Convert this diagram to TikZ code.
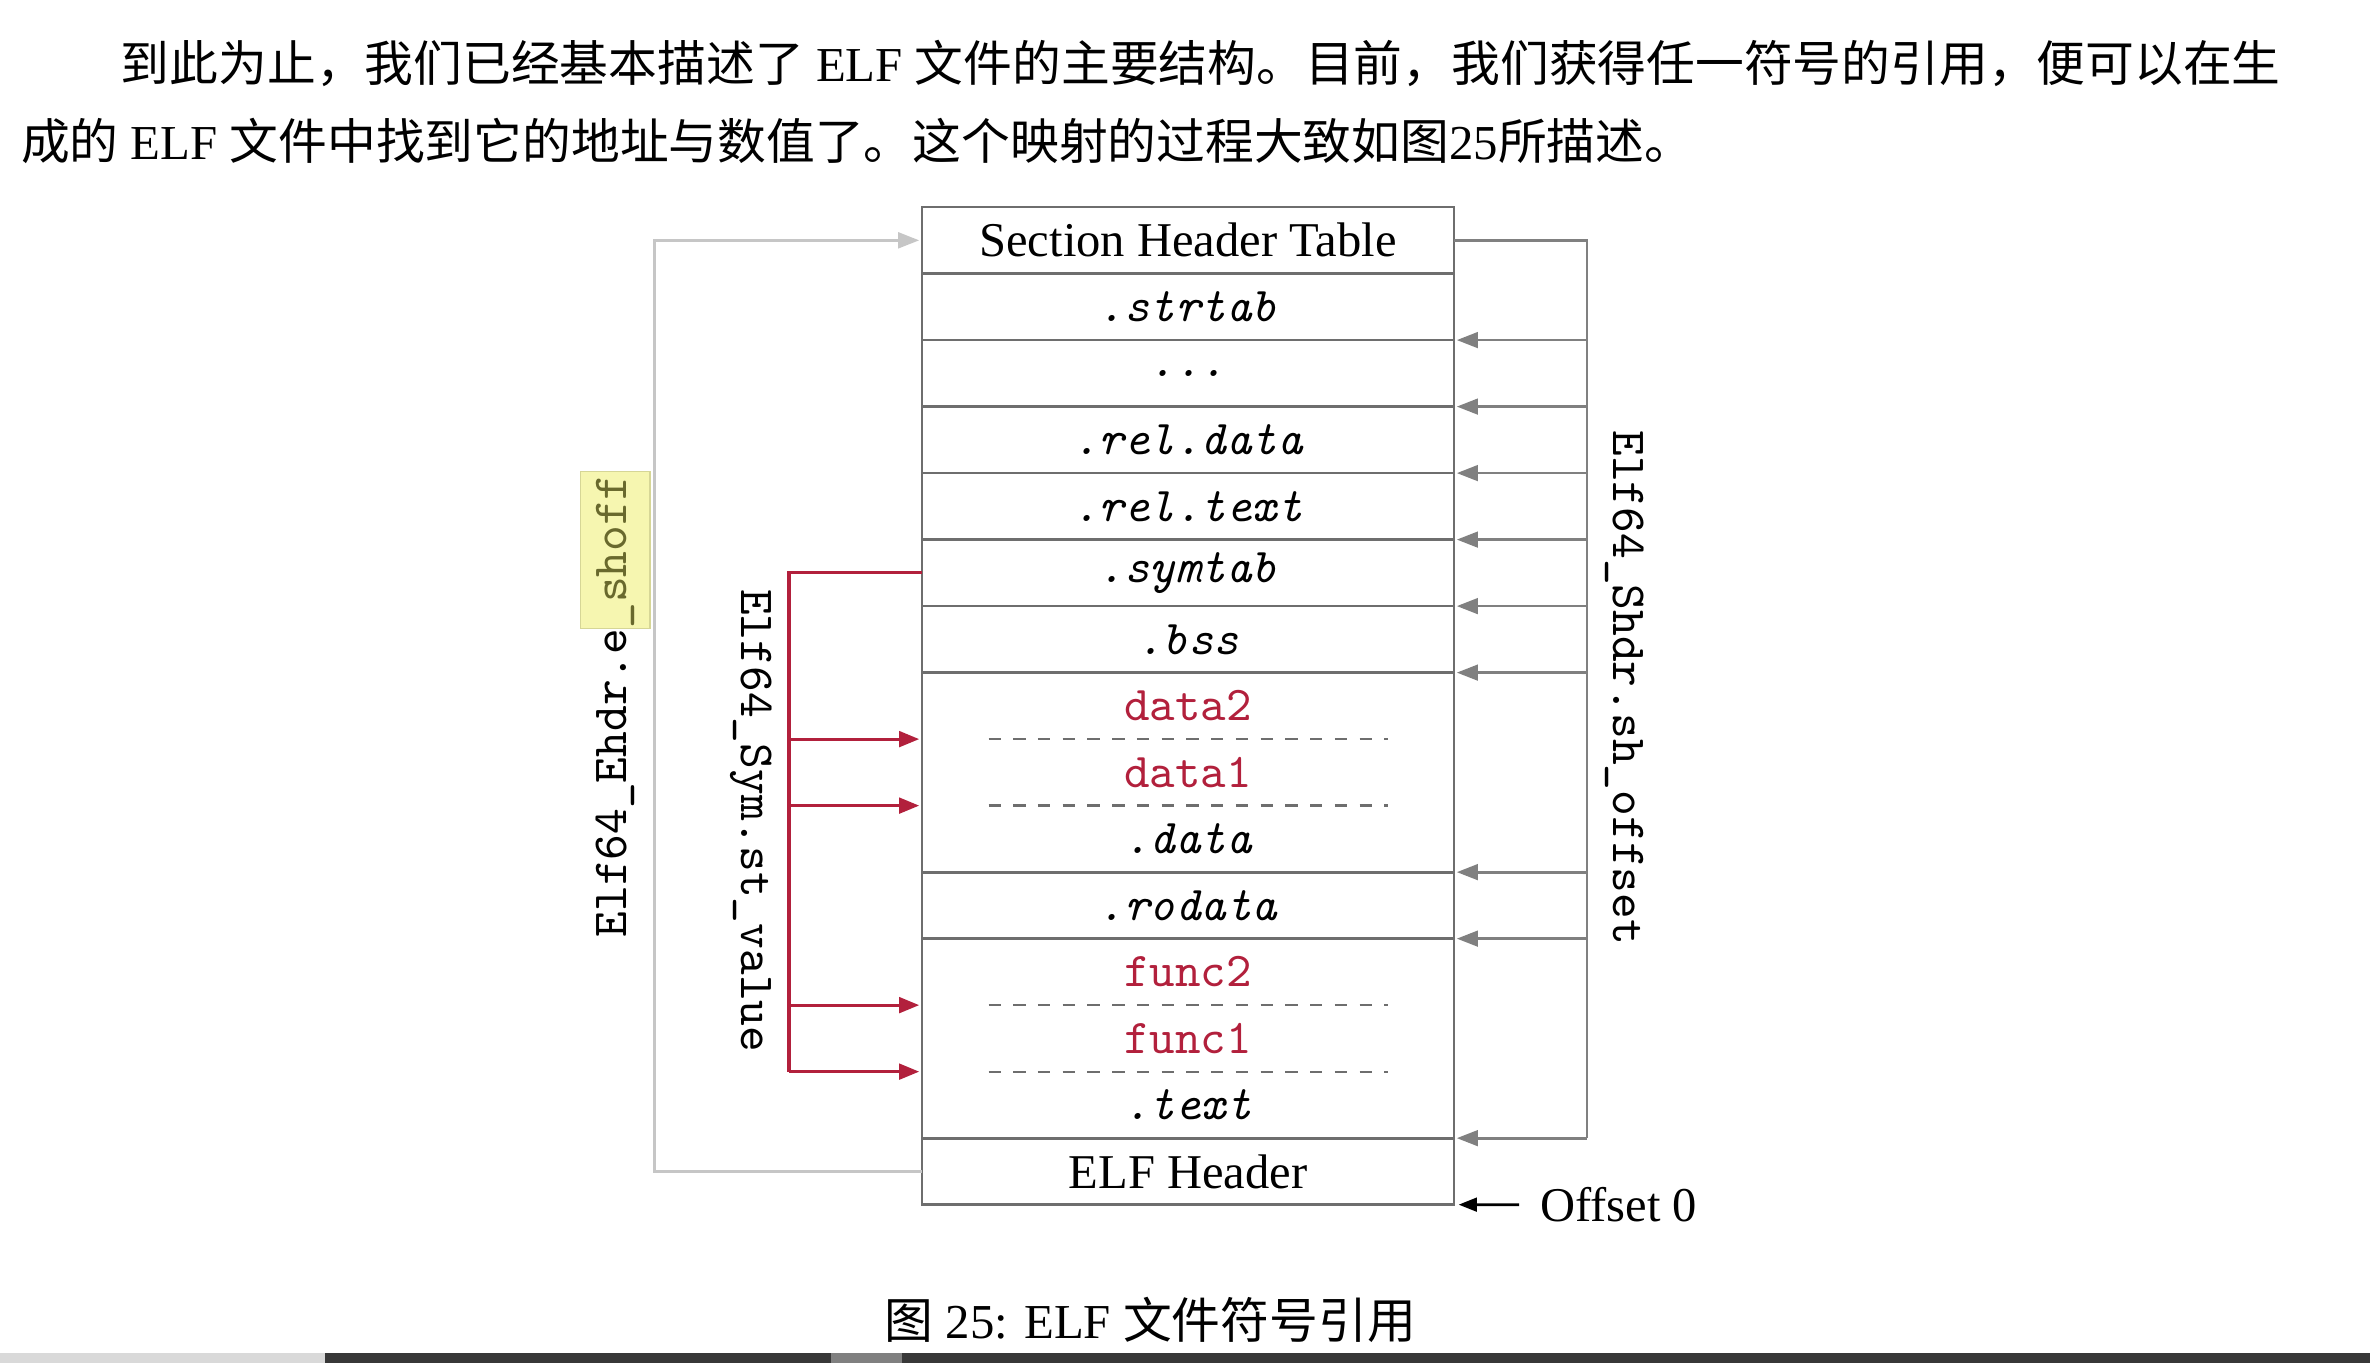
\documentclass[tikz,border=0pt]{standalone}
\usepackage{fontspec}
\setmainfont{Liberation Serif}
\newfontfamily\cjk{Noto Sans CJK SC}
\usetikzlibrary{arrows.meta,positioning}
\definecolor{symred}{RGB}{178,32,60}
\definecolor{boxgray}{RGB}{110,110,110}
\definecolor{shgray}{RGB}{128,128,128}
\definecolor{ehgray}{RGB}{198,198,198}
\definecolor{hlyellow}{RGB}{246,246,176}
\definecolor{hlframe}{RGB}{214,214,150}
\definecolor{hltext}{RGB}{105,105,45}

\begin{document}
\begin{tikzpicture}[x=0.33pt,y=0.33pt,
  every node/.style={font=\fontsize{10.6}{12}\selectfont,inner sep=0pt,outer sep=0pt},
  sect/.style={draw=boxgray,line width=.6pt,minimum width=116.16pt,minimum height=14.52pt},
  part/.style={minimum width=116.16pt,minimum height=14.52pt},
  secname/.style={font=\fontsize{10.6}{12}\selectfont\ttfamily\itshape},
  symname/.style={font=\fontsize{10.6}{12}\selectfont\ttfamily,text=symred},
  fieldname/.style={font=\fontsize{10.7}{12}\selectfont\ttfamily},
  body/.style={font=\fontsize{10.65}{13}\selectfont},
  sep/.style={draw=boxgray,line width=.5pt,dash pattern=on 2.7pt off 2.7pt},
  shline/.style={draw=shgray,line width=.6pt},
  shtip/.style={shline,-{Triangle[length=4.6pt,width=3.4pt]},shorten >=.6pt},
  ehline/.style={draw=ehgray,line width=.7pt,-{Triangle[length=4.6pt,width=3.4pt]},shorten >=.6pt},
  symline/.style={draw=symred,line width=.7pt},
  symtip/.style={symline,-{Triangle[length=4.4pt,width=3.4pt]},shorten >=.6pt}]
\path[use as bounding box,fill=white] (0,0) rectangle (1568,-902);

% text around the figure
\node[body,anchor=west] (par1) at (80,-42) {{\cjk 到此为止，我们已经基本描述了} ELF {\cjk 文件的主要结构。目前，我们获得任一符号的引用，便可以在生}};
\node[body,anchor=west] (par2) at (14,-93) {{\cjk 成的} ELF {\cjk 文件中找到它的地址与数值了。这个映射的过程大致如图}25{\cjk 所描述。}};
\node[body] (caption) at (761,-873) {{\cjk 图} 25: ELF {\cjk 文件符号引用}};

% the file, top to bottom
\node[sect] (sht) at (786,-159) {Section Header Table};
\node[sect,secname,below=0pt of sht] (strtab) {.strtab};
\node[sect,secname,below=0pt of strtab] (dots) {...};
\node[sect,secname,below=0pt of dots] (reldata) {.rel.data};
\node[sect,secname,below=0pt of reldata] (reltext) {.rel.text};
\node[sect,secname,below=0pt of reltext] (symtab) {.symtab};
\node[sect,secname,below=0pt of symtab] (bss) {.bss};
\node[part,symname,below=0pt of bss] (data2) {data2};
\node[part,symname,below=0pt of data2] (data1) {data1};
\node[part,secname,below=0pt of data1] (data) {.data};
\draw[boxgray,line width=.6pt] (data2.north west) rectangle (data.south east);
\node[sect,secname,below=0pt of data] (rodata) {.rodata};
\node[part,symname,below=0pt of rodata] (func2) {func2};
\node[part,symname,below=0pt of func2] (func1) {func1};
\node[part,secname,below=0pt of func1] (text) {.text};
\draw[boxgray,line width=.6pt] (func2.north west) rectangle (text.south east);
\node[sect,below=0pt of text] (elfhdr) {ELF Header};

\draw[sep] ([xshift=14.52pt]data2.south west) -- ([xshift=-14.52pt]data2.south east);
\draw[sep] ([xshift=14.52pt]data1.south west) -- ([xshift=-14.52pt]data1.south east);
\draw[sep] ([xshift=14.52pt]func2.south west) -- ([xshift=-14.52pt]func2.south east);
\draw[sep] ([xshift=14.52pt]func1.south west) -- ([xshift=-14.52pt]func1.south east);

% e_shoff
\draw[hlframe,fill=hlyellow,line width=.3pt] (384,-312) rectangle (430,-416);
\node[fieldname,rotate=90] (ehlbl) at (407,-467) {Elf64\_Ehdr.e{\color{hltext}\_shoff}};
\draw[ehline] (elfhdr.west) -- ++(-177,0) coordinate (ehl) |- (sht.west);

% sh_offset
\draw[shline] (sht.east) -- ++(88,0) coordinate (shr) -- (shr |- text.south);
\foreach \s in {strtab,dots,reldata,reltext,symtab,bss,data,rodata,text}
  \draw[shtip] (shr |- \s.south) -- (\s.south east);
\node[fieldname,rotate=-90] (shlbl) at (1075,-455) {Elf64\_Shdr.sh\_offset};

% st_value
\draw[symline] (symtab.west) -- ++(-88,0) coordinate (symt) -- (symt |- func1.south);
\foreach \s in {data2,data1,func2,func1}
  \draw[symtip] (symt |- \s.south) -- (\s.south west);
\node[fieldname,rotate=-90] (symlbl) at (497,-543) {Elf64\_Sym.st\_value};

% offset 0
\node[anchor=west] (off) at (1019,-797) {Offset 0};
\draw[line width=.6pt,-{Triangle[length=4pt,width=3pt]},shorten >=1pt] ([xshift=-4.6pt]off.west) -- (elfhdr.south east);

% bar at the bottom
\fill[black!15] (0,-895) rectangle (215,-902);
\fill[black!78] (215,-895) rectangle (1568,-902);
\fill[black!50] (550,-895) rectangle (597,-902);
\end{tikzpicture}
\end{document}
